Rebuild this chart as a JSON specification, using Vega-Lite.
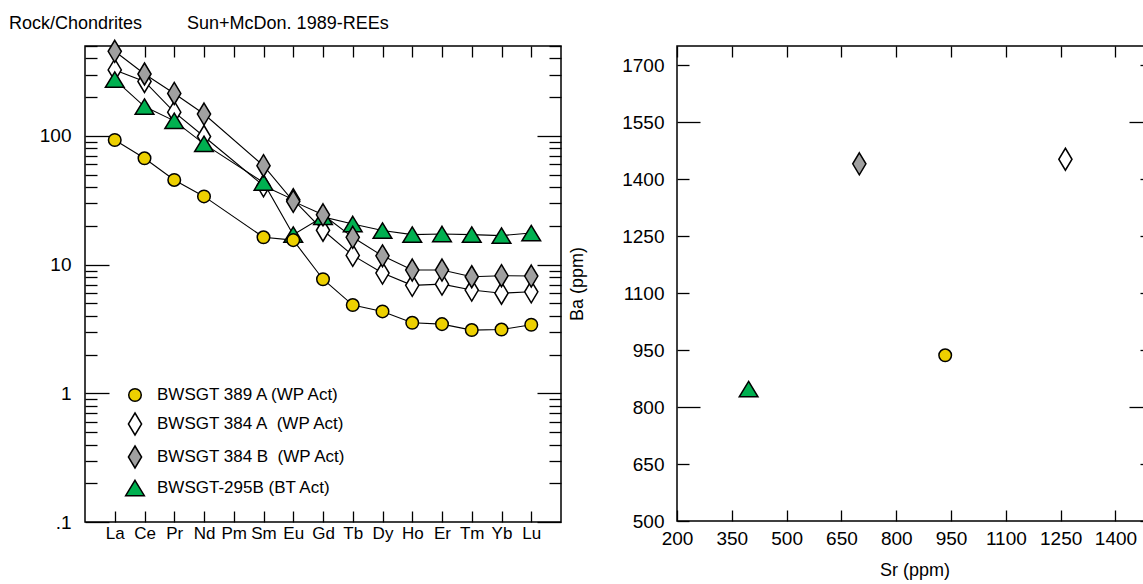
{
  "$schema": "https://vega.github.io/schema/vega-lite/v6.json",
  "padding": {"left": 8, "top": 14, "right": 0, "bottom": 0},
  "background": "white",
  "config": {
    "font": "Liberation Sans",
    "view": {"stroke": "black", "strokeWidth": 1.5},
    "axis": {
      "domain": false, "grid": false,
      "labelFont": "Liberation Sans", "labelFontSize": 19, "labelColor": "black",
      "tickColor": "black", "tickWidth": 1.3,
      "titleFont": "Liberation Sans", "titleFontSize": 18, "titleFontWeight": "normal", "titleColor": "black",
      "labelOverlap": false, "labelFlush": false
    }
  },
  "datasets": {
    "ree": [
      {"s": "BWSGT 384 A\u00a0 (WP Act)", "el": "La", "i": 1, "v": 326},
      {"s": "BWSGT 384 A\u00a0 (WP Act)", "el": "Ce", "i": 2, "v": 265},
      {"s": "BWSGT 384 A\u00a0 (WP Act)", "el": "Pr", "i": 3, "v": 153},
      {"s": "BWSGT 384 A\u00a0 (WP Act)", "el": "Nd", "i": 4, "v": 99},
      {"s": "BWSGT 384 A\u00a0 (WP Act)", "el": "Sm", "i": 6, "v": 41},
      {"s": "BWSGT 384 A\u00a0 (WP Act)", "el": "Eu", "i": 7, "v": 32},
      {"s": "BWSGT 384 A\u00a0 (WP Act)", "el": "Gd", "i": 8, "v": 18.5},
      {"s": "BWSGT 384 A\u00a0 (WP Act)", "el": "Tb", "i": 9, "v": 11.8},
      {"s": "BWSGT 384 A\u00a0 (WP Act)", "el": "Dy", "i": 10, "v": 8.6},
      {"s": "BWSGT 384 A\u00a0 (WP Act)", "el": "Ho", "i": 11, "v": 6.9},
      {"s": "BWSGT 384 A\u00a0 (WP Act)", "el": "Er", "i": 12, "v": 7.05},
      {"s": "BWSGT 384 A\u00a0 (WP Act)", "el": "Tm", "i": 13, "v": 6.35},
      {"s": "BWSGT 384 A\u00a0 (WP Act)", "el": "Yb", "i": 14, "v": 6.0},
      {"s": "BWSGT 384 A\u00a0 (WP Act)", "el": "Lu", "i": 15, "v": 6.15},
      {"s": "BWSGT-295B (BT Act)", "el": "La", "i": 1, "v": 274},
      {"s": "BWSGT-295B (BT Act)", "el": "Ce", "i": 2, "v": 169},
      {"s": "BWSGT-295B (BT Act)", "el": "Pr", "i": 3, "v": 131},
      {"s": "BWSGT-295B (BT Act)", "el": "Nd", "i": 4, "v": 86.7},
      {"s": "BWSGT-295B (BT Act)", "el": "Sm", "i": 6, "v": 43.5},
      {"s": "BWSGT-295B (BT Act)", "el": "Eu", "i": 7, "v": 17.1},
      {"s": "BWSGT-295B (BT Act)", "el": "Gd", "i": 8, "v": 23.5},
      {"s": "BWSGT-295B (BT Act)", "el": "Tb", "i": 9, "v": 20.7},
      {"s": "BWSGT-295B (BT Act)", "el": "Dy", "i": 10, "v": 18.4},
      {"s": "BWSGT-295B (BT Act)", "el": "Ho", "i": 11, "v": 17.1},
      {"s": "BWSGT-295B (BT Act)", "el": "Er", "i": 12, "v": 17.3},
      {"s": "BWSGT-295B (BT Act)", "el": "Tm", "i": 13, "v": 17.1},
      {"s": "BWSGT-295B (BT Act)", "el": "Yb", "i": 14, "v": 16.8},
      {"s": "BWSGT-295B (BT Act)", "el": "Lu", "i": 15, "v": 17.6},
      {"s": "BWSGT 384 B\u00a0 (WP Act)", "el": "La", "i": 1, "v": 455},
      {"s": "BWSGT 384 B\u00a0 (WP Act)", "el": "Ce", "i": 2, "v": 303},
      {"s": "BWSGT 384 B\u00a0 (WP Act)", "el": "Pr", "i": 3, "v": 214},
      {"s": "BWSGT 384 B\u00a0 (WP Act)", "el": "Nd", "i": 4, "v": 148},
      {"s": "BWSGT 384 B\u00a0 (WP Act)", "el": "Sm", "i": 6, "v": 58.7},
      {"s": "BWSGT 384 B\u00a0 (WP Act)", "el": "Eu", "i": 7, "v": 31},
      {"s": "BWSGT 384 B\u00a0 (WP Act)", "el": "Gd", "i": 8, "v": 24.4},
      {"s": "BWSGT 384 B\u00a0 (WP Act)", "el": "Tb", "i": 9, "v": 16.3},
      {"s": "BWSGT 384 B\u00a0 (WP Act)", "el": "Dy", "i": 10, "v": 11.7},
      {"s": "BWSGT 384 B\u00a0 (WP Act)", "el": "Ho", "i": 11, "v": 9.08},
      {"s": "BWSGT 384 B\u00a0 (WP Act)", "el": "Er", "i": 12, "v": 9.08},
      {"s": "BWSGT 384 B\u00a0 (WP Act)", "el": "Tm", "i": 13, "v": 8.05},
      {"s": "BWSGT 384 B\u00a0 (WP Act)", "el": "Yb", "i": 14, "v": 8.2},
      {"s": "BWSGT 384 B\u00a0 (WP Act)", "el": "Lu", "i": 15, "v": 8.15},
      {"s": "BWSGT 389 A (WP Act)", "el": "La", "i": 1, "v": 93},
      {"s": "BWSGT 389 A (WP Act)", "el": "Ce", "i": 2, "v": 67},
      {"s": "BWSGT 389 A (WP Act)", "el": "Pr", "i": 3, "v": 45.5},
      {"s": "BWSGT 389 A (WP Act)", "el": "Nd", "i": 4, "v": 33.9},
      {"s": "BWSGT 389 A (WP Act)", "el": "Sm", "i": 6, "v": 16.3},
      {"s": "BWSGT 389 A (WP Act)", "el": "Eu", "i": 7, "v": 15.5},
      {"s": "BWSGT 389 A (WP Act)", "el": "Gd", "i": 8, "v": 7.7},
      {"s": "BWSGT 389 A (WP Act)", "el": "Tb", "i": 9, "v": 4.85},
      {"s": "BWSGT 389 A (WP Act)", "el": "Dy", "i": 10, "v": 4.33},
      {"s": "BWSGT 389 A (WP Act)", "el": "Ho", "i": 11, "v": 3.53},
      {"s": "BWSGT 389 A (WP Act)", "el": "Er", "i": 12, "v": 3.45},
      {"s": "BWSGT 389 A (WP Act)", "el": "Tm", "i": 13, "v": 3.1},
      {"s": "BWSGT 389 A (WP Act)", "el": "Yb", "i": 14, "v": 3.13},
      {"s": "BWSGT 389 A (WP Act)", "el": "Lu", "i": 15, "v": 3.41}
    ],
    "srba": [
      {"s": "BWSGT 389 A (WP Act)", "sr": 934, "ba": 936},
      {"s": "BWSGT 384 A\u00a0 (WP Act)", "sr": 1263, "ba": 1452},
      {"s": "BWSGT 384 B\u00a0 (WP Act)", "sr": 699, "ba": 1440},
      {"s": "BWSGT-295B (BT Act)", "sr": 396, "ba": 847}
    ]
  },
  "resolve": {"scale": {"shape": "independent", "fill": "independent"}},
  "bounds": "flush",
  "spacing": 116,
  "hconcat": [
    {
      "width": 476,
      "height": 476,
      "title": {
        "text": "Rock/Chondrites\u00a0\u00a0\u00a0\u00a0\u00a0\u00a0\u00a0\u00a0\u00a0Sun+McDon. 1989-REEs",
        "anchor": "start", "frame": "group", "dx": -76, "offset": -10,
        "baseline": "alphabetic", "font": "Liberation Sans", "fontSize": 18,
        "fontWeight": "normal", "color": "black"
      },
      "data": {"name": "ree"},
      "resolve": {"axis": {"x": "independent", "y": "independent"}},
      "layer": [
        {
          "mark": {"type": "line", "color": "black", "strokeWidth": 1.1},
          "encoding": {
            "x": {
              "field": "el", "type": "nominal",
              "scale": {"type": "point", "padding": 1, "domain": ["La", "Ce", "Pr", "Nd", "Pm", "Sm", "Eu", "Gd", "Tb", "Dy", "Ho", "Er", "Tm", "Yb", "Lu"]},
              "axis": {"orient": "bottom", "title": null, "labelAngle": 0, "labelFontSize": 17, "tickSize": -11, "labelPadding": 14}
            },
            "y": {
              "field": "v", "type": "quantitative",
              "scale": {"type": "log", "domain": [0.1, 500], "nice": false},
              "axis": {
                "orient": "left", "title": null,
                "values": [0.1, 0.2, 0.3, 0.4, 0.5, 0.6, 0.7, 0.8, 0.9, 1, 2, 3, 4, 5, 6, 7, 8, 9, 10, 20, 30, 40, 50, 60, 70, 80, 90, 100, 200, 300, 400, 500],
                "tickSize": {"condition": {"test": "datum.value == 0.1 || datum.value == 1 || datum.value == 10 || datum.value == 100", "value": -24}, "value": -12},
                "labelPadding": 38,
                "labelExpr": "datum.value == 0.1 ? '.1' : (datum.value == 1 || datum.value == 10 || datum.value == 100) ? format(datum.value, 'd') : ''"
              }
            },
            "detail": {"field": "s"},
            "order": {"field": "i", "type": "quantitative"}
          }
        },
        {
          "mark": {"type": "point", "filled": true, "stroke": "black", "strokeWidth": 1.5, "opacity": 1, "size": 484},
          "encoding": {
            "x": {
              "field": "el", "type": "nominal",
              "scale": {"type": "point", "padding": 1, "domain": ["La", "Ce", "Pr", "Nd", "Pm", "Sm", "Eu", "Gd", "Tb", "Dy", "Ho", "Er", "Tm", "Yb", "Lu"]},
              "axis": {"orient": "top", "title": null, "labels": false, "tickSize": -11}
            },
            "y": {
              "field": "v", "type": "quantitative",
              "scale": {"type": "log", "domain": [0.1, 500], "nice": false},
              "axis": {
                "orient": "right", "title": null, "labels": false,
                "values": [0.1, 0.2, 0.3, 0.4, 0.5, 0.6, 0.7, 0.8, 0.9, 1, 2, 3, 4, 5, 6, 7, 8, 9, 10, 20, 30, 40, 50, 60, 70, 80, 90, 100, 200, 300, 400, 500],
                "tickSize": {"condition": {"test": "datum.value == 0.1 || datum.value == 1 || datum.value == 10 || datum.value == 100", "value": -24}, "value": -12}
              }
            },
            "shape": {
              "field": "s", "type": "nominal",
              "scale": {
                "domain": ["BWSGT 389 A (WP Act)", "BWSGT 384 A\u00a0 (WP Act)", "BWSGT 384 B\u00a0 (WP Act)", "BWSGT-295B (BT Act)"],
                "range": ["M0.57,0A0.57,0.57,0,1,1,-0.57,0A0.57,0.57,0,1,1,0.57,0Z", "M0,-1L0.6,0L0,1L-0.6,0Z", "M0,-1L0.6,0L0,1L-0.6,0Z", "M0,-0.7L0.85,0.7L-0.85,0.7Z"]
              },
              "legend": {
                "title": null, "orient": "none", "legendX": 38, "legendY": 337, "padding": 0,
                "symbolSize": 484,
                "labelFont": "Liberation Sans", "labelFontSize": 17, "labelColor": "black",
                "labelOffset": 10, "rowPadding": 5, "labelLimit": 400
              }
            },
            "fill": {
              "field": "s", "type": "nominal",
              "scale": {
                "domain": ["BWSGT 389 A (WP Act)", "BWSGT 384 A\u00a0 (WP Act)", "BWSGT 384 B\u00a0 (WP Act)", "BWSGT-295B (BT Act)"],
                "range": ["#EDD000", "#FFFFFF", "#A0A0A0", "#00B050"]
              },
              "legend": {
                "title": null, "orient": "none", "legendX": 38, "legendY": 337, "padding": 0,
                "symbolSize": 484,
                "labelFont": "Liberation Sans", "labelFontSize": 17, "labelColor": "black",
                "labelOffset": 10, "rowPadding": 5, "labelLimit": 400
              }
            }
          }
        }
      ]
    },
    {
      "width": 475,
      "height": 475,
      "data": {"name": "srba"},
      "resolve": {"axis": {"x": "independent", "y": "independent"}},
      "layer": [
        {
          "transform": [{"filter": {"field": "s", "oneOf": ["BWSGT 389 A (WP Act)", "BWSGT 384 A\u00a0 (WP Act)"]}}],
          "mark": {"type": "point", "filled": true, "stroke": "black", "strokeWidth": 1.5, "opacity": 1, "size": 484},
          "encoding": {
            "x": {
              "field": "sr", "type": "quantitative",
              "scale": {"domain": [200, 1500], "nice": false, "zero": false},
              "axis": {"orient": "bottom", "title": "Sr (ppm)", "values": [200, 350, 500, 650, 800, 950, 1100, 1250, 1400], "format": "d", "tickSize": -11, "labelPadding": 19, "titlePadding": 13}
            },
            "y": {
              "field": "ba", "type": "quantitative",
              "scale": {"domain": [500, 1750], "nice": false, "zero": false},
              "axis": {
                "orient": "left", "title": "Ba (ppm)", "values": [500, 650, 800, 950, 1100, 1250, 1400, 1550, 1700], "format": "d",
                "tickSize": {"condition": {"test": "datum.value == 800 || datum.value == 1550", "value": -23}, "value": -12},
                "labelPadding": {"condition": {"test": "datum.value == 800 || datum.value == 1550", "value": 36}, "value": 25},
                "titlePadding": 35
              }
            },
            "shape": {
              "field": "s", "type": "nominal",
              "scale": {
                "domain": ["BWSGT 389 A (WP Act)", "BWSGT 384 A\u00a0 (WP Act)", "BWSGT 384 B\u00a0 (WP Act)", "BWSGT-295B (BT Act)"],
                "range": ["M0.57,0A0.57,0.57,0,1,1,-0.57,0A0.57,0.57,0,1,1,0.57,0Z", "M0,-1L0.6,0L0,1L-0.6,0Z", "M0,-1L0.6,0L0,1L-0.6,0Z", "M0,-0.7L0.85,0.7L-0.85,0.7Z"]
              },
              "legend": null
            },
            "fill": {
              "field": "s", "type": "nominal",
              "scale": {
                "domain": ["BWSGT 389 A (WP Act)", "BWSGT 384 A\u00a0 (WP Act)", "BWSGT 384 B\u00a0 (WP Act)", "BWSGT-295B (BT Act)"],
                "range": ["#EDD000", "#FFFFFF", "#A0A0A0", "#00B050"]
              },
              "legend": null
            }
          }
        },
        {
          "transform": [{"filter": {"field": "s", "oneOf": ["BWSGT 384 B\u00a0 (WP Act)", "BWSGT-295B (BT Act)"]}}],
          "mark": {"type": "point", "filled": true, "stroke": "black", "strokeWidth": 1.5, "opacity": 1, "size": 484},
          "encoding": {
            "x": {
              "field": "sr", "type": "quantitative",
              "scale": {"domain": [200, 1500], "nice": false, "zero": false},
              "axis": {"orient": "top", "title": null, "labels": false, "values": [200, 350, 500, 650, 800, 950, 1100, 1250, 1400], "tickSize": -11}
            },
            "y": {
              "field": "ba", "type": "quantitative",
              "scale": {"domain": [500, 1750], "nice": false, "zero": false},
              "axis": {
                "orient": "right", "title": null, "labels": false, "values": [500, 650, 800, 950, 1100, 1250, 1400, 1550, 1700],
                "tickSize": {"condition": {"test": "datum.value == 800 || datum.value == 1550", "value": -23}, "value": -12}
              }
            },
            "shape": {
              "field": "s", "type": "nominal",
              "scale": {
                "domain": ["BWSGT 389 A (WP Act)", "BWSGT 384 A\u00a0 (WP Act)", "BWSGT 384 B\u00a0 (WP Act)", "BWSGT-295B (BT Act)"],
                "range": ["M0.57,0A0.57,0.57,0,1,1,-0.57,0A0.57,0.57,0,1,1,0.57,0Z", "M0,-1L0.6,0L0,1L-0.6,0Z", "M0,-1L0.6,0L0,1L-0.6,0Z", "M0,-0.7L0.85,0.7L-0.85,0.7Z"]
              },
              "legend": null
            },
            "fill": {
              "field": "s", "type": "nominal",
              "scale": {
                "domain": ["BWSGT 389 A (WP Act)", "BWSGT 384 A\u00a0 (WP Act)", "BWSGT 384 B\u00a0 (WP Act)", "BWSGT-295B (BT Act)"],
                "range": ["#EDD000", "#FFFFFF", "#A0A0A0", "#00B050"]
              },
              "legend": null
            }
          }
        }
      ]
    }
  ]
}
